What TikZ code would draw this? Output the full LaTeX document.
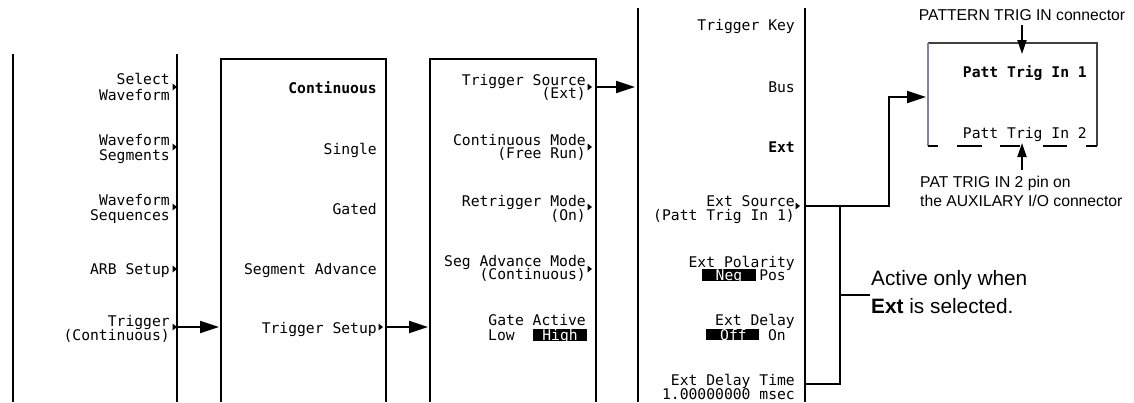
\documentclass[tikz,border=0pt]{standalone}
\usepackage{fontspec}
\setmainfont{Liberation Sans}
\newfontfamily\menufont{DejaVu Sans Mono}
\usetikzlibrary{arrows.meta}
\begin{document}
\begin{tikzpicture}[x=1pt,y=-1pt,
  panel/.style={line width=2pt},
  mt/.style={font=\menufont\fontsize{14.7}{14.7}\selectfont, inner sep=0pt, text height=10.7pt, text depth=0pt, anchor=east},
  mtb/.style={mt, font=\menufont\bfseries\fontsize{14.7}{14.7}\selectfont},
  hl/.style={fill=black},
  hlt/.style={mt, anchor=center, text=white},
  anno/.style={font=\fontsize{15.7}{15.7}\selectfont, inner sep=0pt, text height=11.2pt, text depth=0pt},
  big/.style={font=\fontsize{20.8}{20.8}\selectfont, inner sep=0pt, text height=14.9pt, text depth=0pt, anchor=west},
  conn/.style={line width=2pt, -{Triangle[length=19pt,width=12pt]}},
  wire/.style={line width=2pt},
  small/.style={line width=2pt, -{Triangle[length=14pt,width=9pt]}},
  sk/.pic={\fill (0,0) -- (-4.5,-3.5) -- (-4.5,3.5) -- cycle;}
]
\useasboundingbox (0,0) rectangle (1134,402);

% ---------- panel 1 ----------
\draw[panel] (13,54) -- (13,402);
\draw[panel] (177,54) -- (177,402);
\node[mt] (p1a) at (170,79.5) {Select};
\node[mt] (p1b) at (170,94.7) {Waveform};
\node[mt] (p1c) at (170,140) {Waveform};
\node[mt] (p1d) at (170,155) {Segments};
\node[mt] (p1e) at (170,200.5) {Waveform};
\node[mt] (p1f) at (170,215) {Sequences};
\node[mt] (p1g) at (170,269) {ARB Setup};
\node[mt] (p1h) at (170,320.7) {Trigger};
\node[mt] (p1i) at (170,335) {(Continuous)};
\pic at (177,87) {sk};
\pic at (177,147) {sk};
\pic at (177,207) {sk};
\pic at (177,269) {sk};
\pic at (177,327) {sk};

% ---------- panel 2 ----------
\draw[panel] (221,402) -- (221,59) -- (386,59) -- (386,402);
\node[mtb] (p2a) at (377,88) {Continuous};
\node[mt] (p2b) at (377,148.7) {Single};
\node[mt] (p2c) at (377,208.7) {Gated};
\node[mt] (p2d) at (377,268.7) {Segment Advance};
\node[mt] (p2e) at (377,328) {Trigger Setup};
\pic at (383,327) {sk};

% ---------- panel 3 ----------
\draw[panel] (430,402) -- (430,59) -- (596,59) -- (596,402);
\node[mt] (p3a) at (586,80) {Trigger Source};
\node[mt] (p3b) at (586,93) {(Ext)};
\node[mt] (p3c) at (586,140) {Continuous Mode};
\node[mt] (p3d) at (586,153) {(Free Run)};
\node[mt] (p3e) at (586,201) {Retrigger Mode};
\node[mt] (p3f) at (586,215) {(On)};
\node[mt] (p3g) at (586,261) {Seg Advance Mode};
\node[mt] (p3h) at (586,274) {(Continuous)};
\node[mt] (p3i) at (586,320.5) {Gate Active};
\node[mt, anchor=west] (p3j) at (488,334.7) {Low};
\fill[hl] (533,329) rectangle (587,341);
\node[hlt] (p3k) at (560,334.7) {High};
\pic at (592,87) {sk};
\pic at (592,147) {sk};
\pic at (592,207) {sk};
\pic at (592,269) {sk};

% ---------- panel 4 ----------
\draw[panel] (638,8) -- (638,402);
\draw[panel] (805,8) -- (805,402);
\node[mt] (p4a) at (795,25.3) {Trigger Key};
\node[mt] (p4b) at (795,86.7) {Bus};
\node[mtb] (p4c) at (795,147) {Ext};
\node[mt] (p4d) at (795,201.5) {Ext Source};
\node[mt] (p4e) at (795,215) {(Patt Trig In 1)};
\node[mt] (p4f) at (795,261.7) {Ext Polarity};
\fill[hl] (702,269) rectangle (756,281);
\node[hlt] (p4g) at (729,275) {Neg};
\node[mt] (p4h) at (786,275) {Pos};
\node[mt] (p4i) at (795,320) {Ext Delay};
\fill[hl] (706,329) rectangle (759,340);
\node[hlt] (p4j) at (733.5,335) {Off};
\node[mt] (p4k) at (786,335) {On};
\node[mt] (p4l) at (795,380.5) {Ext Delay Time};
\node[mt] (p4m) at (795,394) {1.00000000 msec};
\pic at (800,206) {sk};

% ---------- connectors between panels ----------
\coordinate (c1s) at (177,327);
\coordinate (c1e) at (219,327);
\coordinate (c2s) at (386,327);
\coordinate (c2e) at (428,327);
\coordinate (c3s) at (596,87);
\coordinate (c3e) at (635,87);
\draw[conn] (c1s) -- (c1e);
\draw[conn] (c2s) -- (c2e);
\draw[conn] (c3s) -- (c3e);

% ---------- right box ----------
\draw[line width=1.5pt, color=black!75] (928,43) -- (1097,43) -- (1097,146);
\draw[line width=1.5pt, color={rgb,255:red,128;green,128;blue,176}] (928,43) -- (928,146);
\foreach \a/\b in {928/938, 957/982, 1000/1020, 1043/1067, 1086/1097}
  \draw[line width=2pt] (\a,146) -- (\b,146);
\node[mtb] (pt1) at (1087,72) {Patt Trig In 1};
\node[mt] (pt2) at (1087,133) {Patt Trig In 2};

\node[anno, anchor=center] (lab1) at (1022,14.7) {PATTERN TRIG IN connector};
\coordinate (a1s) at (1022,25);
\coordinate (a1e) at (1022,54);
\draw[small] (a1s) -- (a1e);
\coordinate (a2s) at (1022,170);
\coordinate (a2e) at (1022,143);
\draw[small] (a2s) -- (a2e);
\node[anno, anchor=west] (lab2) at (920,182) {PAT TRIG IN 2 pin on};
\node[anno, anchor=west] (lab3) at (920,201) {the AUXILARY I/O connector};

% ---------- Ext source connector and bracket ----------
\coordinate (e1) at (805,206);
\coordinate (e2) at (889,206);
\coordinate (e3) at (889,97);
\coordinate (e4) at (926,97);
\draw[conn] (e1) -- (e2) -- (e3) -- (e4);
\coordinate (b1) at (840,206);
\coordinate (b2) at (840,384);
\coordinate (b3) at (805,384);
\coordinate (b4) at (840,295);
\coordinate (b5) at (870,295);
\draw[wire] (b1) -- (b2) -- (b3);
\draw[wire] (b4) -- (b5);
\node[big] (n1) at (871,278) {Active only when};
\node[big] (n2) at (871,306) {\textbf{Ext} is selected.};
\end{tikzpicture}
\end{document}
